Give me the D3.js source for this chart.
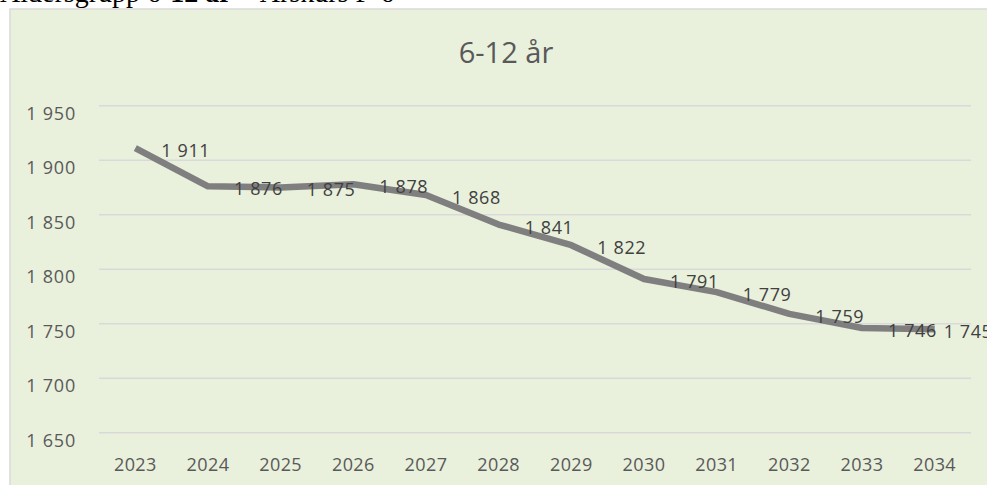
<!DOCTYPE html>
<html><head><meta charset="utf-8">
<script src="https://cdn.jsdelivr.net/npm/d3@7"></script>
<style>
html,body{margin:0;padding:0;background:#fff;overflow:hidden;}
svg{display:block;}
</style></head>
<body>
<svg id="c" width="987" height="485"></svg>
<script>
const years = ["2023","2024","2025","2026","2027","2028","2029","2030","2031","2032","2033","2034"];
const values = [1911,1876,1875,1878,1868,1841,1822,1791,1779,1759,1746,1745];
const yTicks = [1650,1700,1750,1800,1850,1900,1950];
const title = "6-12 år";
const headingParts = [["Åldersgrupp 6-","normal"],["12 år","bold"],[" – Årskurs F-6","normal"]];

const svg = d3.select("#c");
const font = "'Open Sans', sans-serif";

// heading text (cut off at top, as in the source)
const h = svg.append("text").attr("x",0).attr("y",2)
  .attr("font-family","'Liberation Serif', serif").attr("font-size",28)
  .attr("fill","#000");
headingParts.forEach(p => h.append("tspan").attr("font-weight",p[1]).text(p[0]));

// panel
svg.append("rect").attr("x",10).attr("y",9).attr("width",1000).attr("height",500)
  .attr("fill","#E9F0DC").attr("stroke","#d9d9d9").attr("stroke-width",1.5);

const x = d3.scaleBand().domain(years).range([99,971]).padding(0);
const y = d3.scaleLinear().domain([1650,1950]).range([432.7,105.7]);

// gridlines
svg.append("g").selectAll("line").data(yTicks).join("line")
  .attr("x1",99).attr("x2",971)
  .attr("y1",d=>y(d)).attr("y2",d=>y(d))
  .attr("stroke","#d9d9d9").attr("stroke-width",1.5);

// y axis labels
const fmt = d => { const s = String(d); return s[0] + " " + s.slice(1); };
svg.append("g").selectAll("text").data(yTicks).join("text")
  .attr("x",76).attr("y",d=>y(d)+14)
  .attr("text-anchor","end")
  .attr("font-family",font).attr("font-size",18).attr("letter-spacing",0.8)
  .attr("fill","#595959")
  .text(d=>fmt(d));

// x axis labels
svg.append("g").selectAll("text").data(years).join("text")
  .attr("x",d=>x(d)+x.bandwidth()/2).attr("y",471)
  .attr("text-anchor","middle")
  .attr("font-family",font).attr("font-size",18).attr("letter-spacing",0.4)
  .attr("fill","#595959")
  .text(d=>d);

// line
const pts = years.map((yr,i)=>({yr, v: values[i]}));
svg.append("path").datum(pts)
  .attr("fill","none").attr("stroke","#7f7f7f").attr("stroke-width",6.5)
  .attr("stroke-linejoin","round")
  .attr("d", d3.line().x(d=>x(d.yr)+x.bandwidth()/2).y(d=>y(d.v)));

// data labels
svg.append("g").selectAll("text").data(pts).join("text")
  .attr("x",(d,i)=>x(d.yr)+x.bandwidth()/2 + (i===pts.length-1 ? 9 : 26))
  .attr("y",d=>y(d.v)+9)
  .attr("font-family",font).attr("font-size",18).attr("letter-spacing",0.6)
  .attr("fill","#404040")
  .text(d=>fmt(d.v));

// title
svg.append("text").attr("x",506).attr("y",63)
  .attr("text-anchor","middle")
  .attr("font-family",font).attr("font-size",29).attr("fill","#595959")
  .text(title);
</script>
</body></html>
